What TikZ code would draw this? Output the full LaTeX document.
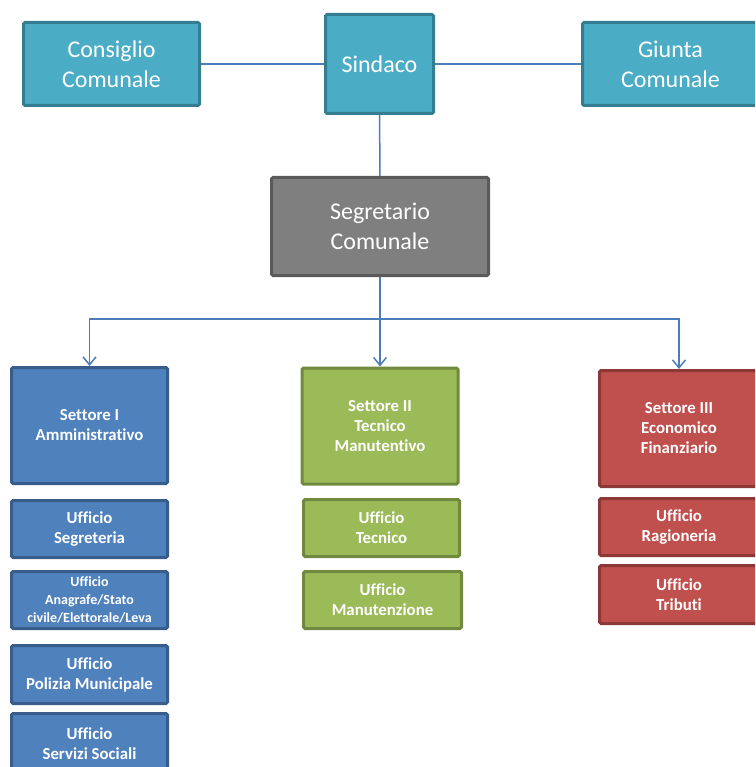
\documentclass[tikz,border=0pt]{standalone}
\usepackage{fontspec}
\setmainfont{Carlito}[Ligatures=NoCommon]
\usepackage{tikz}
\usetikzlibrary{arrows.meta}
\definecolor{tealfill}{HTML}{4BACC6}
\definecolor{tealline}{HTML}{357D91}
\definecolor{grayfill}{HTML}{7F7F7F}
\definecolor{grayline}{HTML}{5A5A5A}
\definecolor{bluefill}{HTML}{4F81BD}
\definecolor{blueline}{HTML}{385D8A}
\definecolor{greenfill}{HTML}{9BBB59}
\definecolor{greenline}{HTML}{71893F}
\definecolor{redfill}{HTML}{C0504D}
\definecolor{redline}{HTML}{8C3836}
\definecolor{linkline}{HTML}{4A7EBB}
\tikzstyle{box}=[rectangle, rounded corners=1.5pt, line width=3pt, inner sep=0pt, align=center, text=white]
\tikzstyle{organo}=[box, fill=tealfill, draw=tealline, font=\fontsize{24}{30}\selectfont]
\tikzstyle{segr}=[box, fill=grayfill, draw=grayline, font=\fontsize{24}{30}\selectfont]
\tikzstyle{settore}=[box, font=\bfseries\fontsize{16.8}{20}\selectfont, minimum width=156pt, minimum height=116pt]
\tikzstyle{ufficio}=[box, font=\bfseries\fontsize{16.8}{20}\selectfont, minimum width=156pt, minimum height=57pt]
\tikzstyle{primo}=[fill=bluefill, draw=blueline]
\tikzstyle{secondo}=[fill=greenfill, draw=greenline]
\tikzstyle{terzo}=[fill=redfill, draw=redline]
\tikzstyle{link}=[draw=linkline, line width=1.5pt]
\newcommand{\organo}{\node[organo]}
\newcommand{\settore}{\node[settore]}
\newcommand{\ufficio}{\node[ufficio]}

\begin{document}
\begin{tikzpicture}[x=1pt, y=-1pt,
    every edge/.style={link},
    freccia/.style={link, -{Straight Barb[length=8pt, width=13pt, line width=1.5pt]}}
]
\clip (0,0) rectangle (755,767);
\organo (cons) at (111.5,64) [minimum width=176pt, minimum height=83pt] {Consiglio\\Comunale};
\organo (sind) at (379.5,64) [minimum width=108pt, minimum height=99pt] {Sindaco};
\organo (giunta) at (670.5,64) [minimum width=176pt, minimum height=83pt] {Giunta\\Comunale};
\node[segr] (segr) at (380,226.5) [minimum width=217pt, minimum height=98pt] {Segretario\\Comunale};
\coordinate (snodo) at (380,319);
% settori
\settore[primo] (s1) at (89.5,425.5) {Settore I\\Amministrativo};
\settore[secondo] (s2) at (380,426) {Settore II\\Tecnico\\Manutentivo};
\settore[terzo] (s3) at (679,428.5) [minimum width=159pt] {Settore III\\Economico\\Finanziario};
% uffici
\ufficio[primo] (u1a) at (89.5,529) {Ufficio\\Segreteria};
\ufficio[primo] (u1b) at (89.5,600) [font=\bfseries\fontsize{14}{18}\selectfont] {Ufficio\\Anagrafe/Stato\\civile/Elettorale/Leva};
\ufficio[primo] (u1c) at (89.5,674.5) [minimum height=58pt] {Ufficio\\Polizia Municipale};
\ufficio[primo] (u1d) at (89.5,743.5) [minimum height=60pt] {Ufficio\\Servizi Sociali};
\ufficio[secondo] (u2a) at (381.5,528) {Ufficio\\Tecnico};
\ufficio[secondo] (u2b) at (382.5,600) [minimum width=158pt] {Ufficio\\Manutenzione};
\ufficio[terzo] (u3a) at (679,527) [minimum width=159pt] {Ufficio\\Ragioneria};
\ufficio[terzo] (u3b) at (679,594.5) [minimum width=159pt, minimum height=58pt] {Ufficio\\Tributi};
\path
(cons) edge (sind)
(sind) edge (giunta)
(sind) edge (segr)
;
\draw[link] (segr) -- (snodo);
\draw[freccia] (snodo) -| (s1.north);
\draw[freccia] (snodo) -- (s2.north);
\draw[freccia] (snodo) -| (s3.north);
\end{tikzpicture}
\end{document}
